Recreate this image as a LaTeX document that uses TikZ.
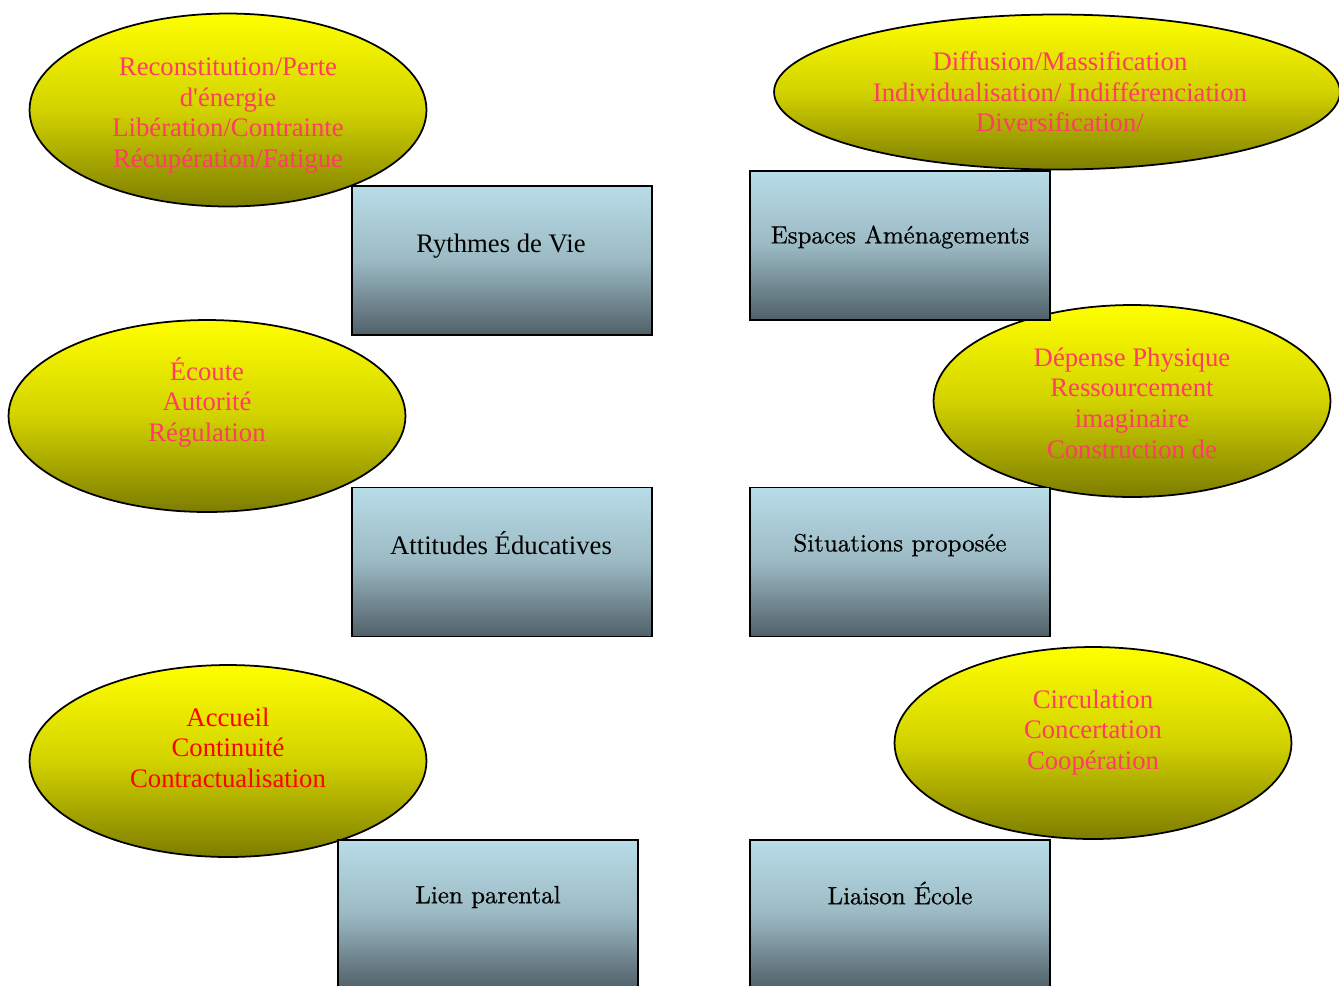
\documentclass[tikz,border=0pt]{standalone}
\usepackage{fontspec}
\newfontfamily\timesfont{Liberation Serif}
\newfontface\boitefont{lmroman10-regular.otf}[FakeBold=0.6]
\usepackage{tikz}
\usetikzlibrary{shapes.geometric}
\definecolor{BulleHaut}{RGB}{255,255,0}
\definecolor{BulleMilieu}{RGB}{210,210,0}
\definecolor{BulleBas}{RGB}{125,125,0}
\definecolor{BoiteHaut}{RGB}{184,221,232}
\definecolor{BoiteMilieu}{RGB}{155,185,195}
\definecolor{BoiteBas}{RGB}{80,96,104}
\definecolor{TexteRose}{RGB}{255,60,100}
\definecolor{TexteRouge}{RGB}{255,0,0}

\tikzset{
	bulle/.style={ellipse, draw=black, line width=1pt, inner sep=0pt,
		top color=BulleHaut, bottom color=BulleBas, middle color=BulleMilieu},
	boite/.style={rectangle, draw=black, line width=1pt, inner sep=0pt,
		minimum width=6cm, minimum height=2.98cm,
		top color=BoiteHaut, bottom color=BoiteBas, middle color=BoiteMilieu},
	mots/.style={align=center, text=TexteRose, inner sep=0pt,
		font=\timesfont\fontsize{15.2}{17.4}\selectfont},
	titre/.style={align=center, text=black, inner sep=0pt,
		font=\boitefont\fontsize{14.2}{17}\selectfont},
	titreT/.style={titre, font=\timesfont\fontsize{15.2}{17.4}\selectfont}
}

\begin{document}
\begin{tikzpicture}[x=0.02cm, y=-0.02cm]
	\useasboundingbox (0,0) rectangle (1339,985);
	\clip (0,0) rectangle (1339,985);
	% bulles
	\node[bulle, minimum width=7.94cm, minimum height=3.86cm] (bRythmes) at (228,110) {};
	\node[bulle, minimum width=11.32cm, minimum height=3.1cm] (bEspaces) at (1057,92) {};
	\node[bulle, minimum width=7.94cm, minimum height=3.84cm] (bAttitudes) at (207,416) {};
	\node[bulle, minimum width=7.94cm, minimum height=3.84cm] (bSituations) at (1132,401) {};
	\node[bulle, minimum width=7.94cm, minimum height=3.84cm] (bLien) at (228,761) {};
	\node[bulle, minimum width=7.94cm, minimum height=3.84cm] (bLiaison) at (1093,743) {};
	\node[mots] (mRythmes) at (228,115.5) {Reconstitution/Perte\\d'énergie\\Libération/Contrainte\\Récupération/Fatigue};
	\node[mots] (mEspaces) at (1060,92) {Diffusion/Massification\\Individualisation/ Indifférenciation\\Diversification/};
	\node[mots] (mAttitudes) at (207,402) {Écoute\\Autorité\\Régulation};
	\node[mots] (mSituations) at (1132,403) {Dépense Physique\\Ressourcement\\imaginaire\\Construction de};
	\node[mots, text=TexteRouge] (mLien) at (228,747.5) {Accueil\\Continuité\\Contractualisation};
	\node[mots] (mLiaison) at (1093,732.5) {Circulation\\Concertation\\Coopération};
	% boites
	\node[boite] (rRythmes) at (502,260.5) {};
	\node[boite] (rEspaces) at (900,245.5) {};
	\node[boite] (rAttitudes) at (502,562) {};
	\node[boite] (rSituations) at (900,562) {};
	\node[boite] (rLien) at (488,914.5) {};
	\node[boite] (rLiaison) at (900,914.5) {};
	\node[titreT] (tRythmes) at (501,246.5) {Rythmes de Vie};
	\node[titre] (tEspaces) at (900,237) {Espaces Aménagements};
	\node[titreT] (tAttitudes) at (501,543) {Attitudes Éducatives};
	\node[titre] (tSituations) at (900,545) {Situations proposée};
	\node[titre] (tLien) at (488,897) {Lien parental};
	\node[titre] (tLiaison) at (900,893) {Liaison École};
\end{tikzpicture}
\end{document}
